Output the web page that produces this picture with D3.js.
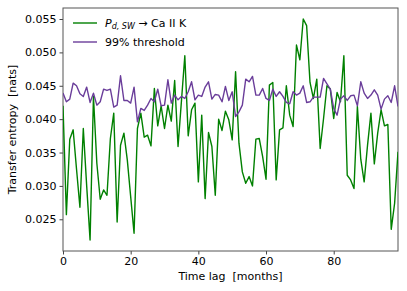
<!DOCTYPE html>
<html>
<head>
<meta charset="utf-8">
<script src="https://cdn.jsdelivr.net/npm/d3@7"></script>
<style>
  body { margin: 0; background: #fff; }
  svg text { font-family: "DejaVu Sans", sans-serif; white-space: pre; }
</style>
</head>
<body>
<svg id="chart" width="407" height="291"></svg>
<script>
// transfer entropy per lag (months 0..99)
const teValues = [
  0.0420, 0.0257, 0.0370, 0.0384, 0.0325, 0.0268, 0.0386, 0.0300, 0.0219, 0.0434,
  0.0334, 0.0280, 0.0294, 0.0286, 0.0371, 0.0409, 0.0246, 0.0361, 0.0379, 0.0339,
  0.0284, 0.0229, 0.0386, 0.0409, 0.0373, 0.0376, 0.0360, 0.0446, 0.0390, 0.0420,
  0.0386, 0.0421, 0.0397, 0.0458, 0.0359, 0.0427, 0.0495, 0.0375, 0.0414, 0.0424,
  0.0306, 0.0406, 0.0281, 0.0380, 0.0359, 0.0286, 0.0400, 0.0383, 0.0412, 0.0399,
  0.0369, 0.0471, 0.0364, 0.0321, 0.0304, 0.0314, 0.0300, 0.0370, 0.0371, 0.0344,
  0.0310, 0.0451, 0.0455, 0.0309, 0.0384, 0.0387, 0.0450, 0.0406, 0.0389, 0.0511,
  0.0489, 0.0550, 0.0540, 0.0455, 0.0431, 0.0460, 0.0356, 0.0401, 0.0450, 0.0445,
  0.0401, 0.0440, 0.0426, 0.0495, 0.0316, 0.0309, 0.0296, 0.0419, 0.0340, 0.0306,
  0.0361, 0.0409, 0.0333, 0.0379, 0.0414, 0.0390, 0.0392, 0.0235, 0.0274, 0.0351
];
// 99% significance threshold
const thresholdValues = [
  0.0439, 0.0426, 0.0430, 0.0454, 0.0450, 0.0438, 0.0434, 0.0448, 0.0425, 0.0439,
  0.0421, 0.0426, 0.0445, 0.0443, 0.0445, 0.0418, 0.0421, 0.0465, 0.0428, 0.0428,
  0.0424, 0.0448, 0.0396, 0.0416, 0.0413, 0.0421, 0.0431, 0.0426, 0.0445, 0.0420,
  0.0421, 0.0459, 0.0424, 0.0436, 0.0429, 0.0434, 0.0431, 0.0441, 0.0456, 0.0429,
  0.0436, 0.0434, 0.0448, 0.0456, 0.0430, 0.0437, 0.0436, 0.0426, 0.0449, 0.0428,
  0.0441, 0.0404, 0.0411, 0.0421, 0.0460, 0.0456, 0.0464, 0.0436, 0.0436, 0.0446,
  0.0431, 0.0428, 0.0445, 0.0434, 0.0441, 0.0434, 0.0425, 0.0423, 0.0441, 0.0436,
  0.0439, 0.0450, 0.0425, 0.0426, 0.0433, 0.0433, 0.0433, 0.0461, 0.0453, 0.0445,
  0.0416, 0.0406, 0.0430, 0.0435, 0.0428, 0.0435, 0.0436, 0.0420, 0.0456, 0.0439,
  0.0431, 0.0436, 0.0444, 0.0436, 0.0415, 0.0430, 0.0435, 0.0425, 0.0450, 0.0419
];
const lags = d3.range(teValues.length);
const xTicks = [0, 20, 40, 60, 80];
const yTicks = [0.025, 0.030, 0.035, 0.040, 0.045, 0.050, 0.055];

var margin = { top: 8, right: 9, bottom: 40, left: 63 },
  width = 407 - margin.left - margin.right,
  height = 291 - margin.top - margin.bottom;

const svg = d3.select("#chart")
  .append("g")
  .attr("transform", "translate(" + margin.left + "," + margin.top + ")");

const xScale = d3.scaleLinear().domain([0, 99]).range([0, width]);
const yScale = d3.scaleLinear().domain([0.02025, 0.05665]).range([height, 0]);

const xAxis = svg.append("g")
  .attr("transform", "translate(0," + height + ")")
  .call(d3.axisBottom(xScale).tickValues(xTicks).tickSize(3.5).tickPadding(3).tickFormat(d3.format("d")));
const yAxis = svg.append("g")
  .call(d3.axisLeft(yScale).tickValues(yTicks).tickSize(3.5).tickPadding(3).tickFormat(d3.format(".3f")));

[xAxis, yAxis].forEach((a) => {
  a.select(".domain").remove();
  a.selectAll("line").attr("stroke", "#444");
  a.selectAll("text").attr("font-size", "11px").attr("fill", "#000");
});

// frame
svg.append("rect")
  .attr("width", width).attr("height", height)
  .attr("fill", "none").attr("stroke", "#555").attr("stroke-width", 1);

svg.append("defs").append("clipPath").attr("id", "clip")
  .append("rect").attr("width", width).attr("height", height);

const line = (vals) => d3.line()
  .x((d, i) => xScale(lags[i]))
  .y((d) => yScale(d))(vals);

const plot = svg.append("g").attr("clip-path", "url(#clip)");
plot.append("path").attr("d", line(teValues))
  .attr("fill", "none").attr("stroke", "#008000").attr("stroke-width", 1.4)
  .attr("stroke-linejoin", "round");
plot.append("path").attr("d", line(thresholdValues))
  .attr("fill", "none").attr("stroke", "#6a3d9a").attr("stroke-width", 1.4)
  .attr("stroke-linejoin", "round");

// legend
const legend = svg.append("g").attr("transform", "translate(10,15)");
legend.append("line").attr("x1", 0).attr("x2", 24).attr("y1", 0).attr("y2", 0)
  .attr("stroke", "#008000").attr("stroke-width", 1.4);
const lab1 = legend.append("text").attr("x", 32).attr("y", 4).attr("font-size", "11px");
lab1.append("tspan").attr("font-style", "italic").text("P");
lab1.append("tspan").attr("font-style", "italic").attr("font-size", "8px").attr("dy", 2).text("d, SW");
lab1.append("tspan").attr("dy", -2).text(" \u2192 Ca II K");

legend.append("line").attr("x1", 0).attr("x2", 24).attr("y1", 19).attr("y2", 19)
  .attr("stroke", "#6a3d9a").attr("stroke-width", 1.4);
legend.append("text").attr("x", 32).attr("y", 23).attr("font-size", "11px").text("99% threshold");

// axis labels
svg.append("text")
  .attr("x", width / 2).attr("y", height + 29)
  .attr("text-anchor", "middle").attr("font-size", "11px")
  .text("Time lag  [months]");
svg.append("text")
  .attr("transform", "rotate(-90)")
  .attr("x", -height / 2).attr("y", -47)
  .attr("text-anchor", "middle").attr("font-size", "11px")
  .text("Transfer entropy  [nats]");
</script>
</body>
</html>
